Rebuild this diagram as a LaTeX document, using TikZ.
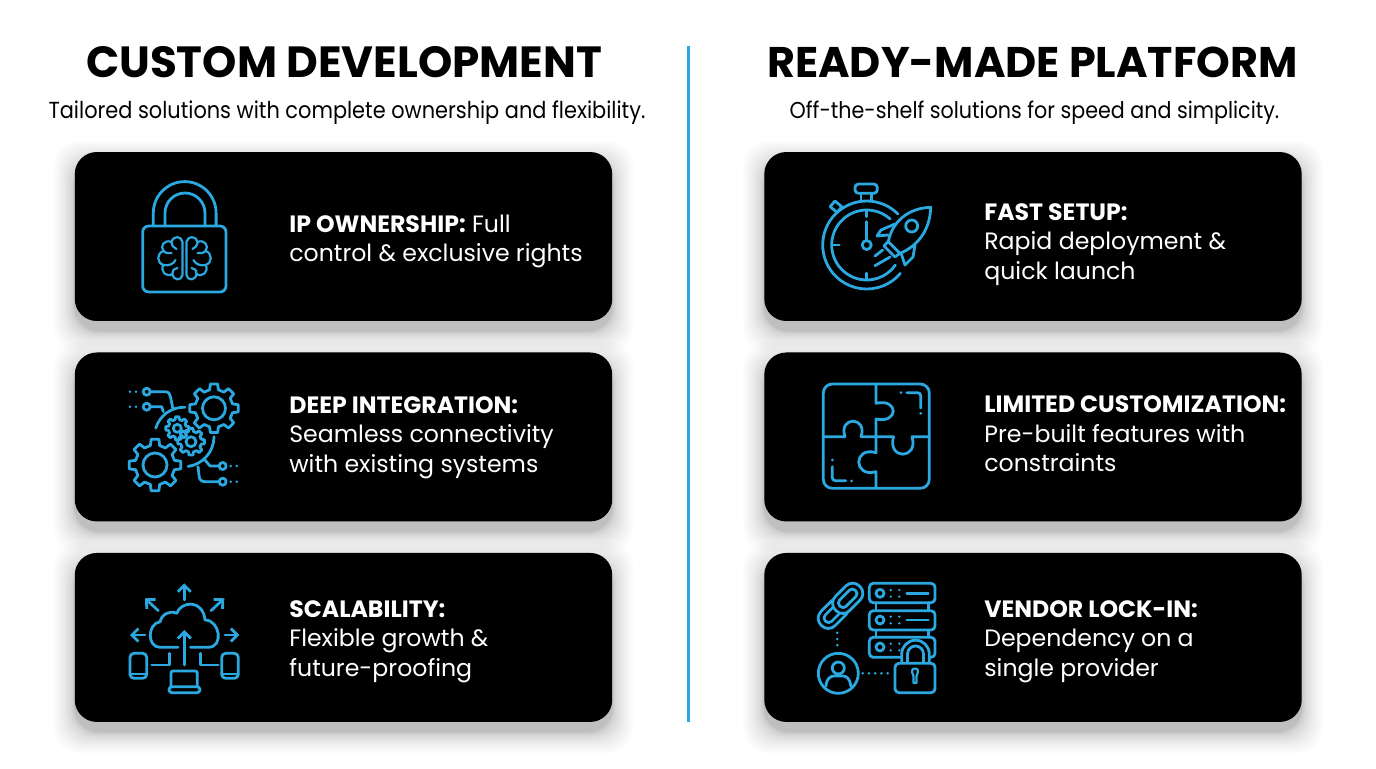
\documentclass[tikz,border=0pt]{standalone}
\usepackage{fontspec}
\setmainfont{Poppins}
\newfontfamily\subfont[FakeStretch=0.9]{Poppins}
\usepackage{tikz}
\usetikzlibrary{arrows.meta}
\definecolor{iconblue}{HTML}{2AA8DF}
\tikzstyle{Title} = [text=black, font=\fontsize{24.5pt}{28pt}\selectfont\bfseries, inner sep=0pt]
\tikzstyle{SubTitle} = [text=black, font=\subfont\fontsize{13.2pt}{16pt}\selectfont, inner sep=0pt]
\tikzstyle{Card} = [rectangle, rounded corners=0.44cm, minimum width=10.75cm, minimum height=3.38cm, fill=black, inner sep=0pt]
\tikzstyle{CardText} = [text=white, anchor=west, font=\fontsize{13.45pt}{16.8pt}\selectfont, inner sep=0pt]
\tikzstyle{Divider} = [draw=iconblue, line width=0.06cm]
\tikzstyle{IconLine} = [draw=iconblue, line width=0.056cm, line cap=round, line join=round]
\tikzstyle{IconThin} = [draw=iconblue, line width=0.044cm, line cap=round, line join=round]
\tikzstyle{IconArrow} = [IconLine, -{Straight Barb[length=0.13cm, width=0.26cm]}]
\tikzstyle{IconDots} = [draw=iconblue, line width=0.056cm, line cap=round, dash pattern=on 0pt off 0.125cm]

% soft shadow under a card
\newcommand{\cardshadow}[1]{
  \foreach \s in {1,...,16}
    \fill[black, opacity=0.014, rounded corners=0.5cm]
      ([xshift=-\s*\s*0.0016cm, yshift=-0.2cm-\s*\s*0.0016cm]#1.south west) rectangle
      ([xshift=\s*\s*0.0016cm, yshift=-0.2cm+\s*\s*0.0016cm]#1.north east);
}
% gear: centre x, centre y, tip radius, root radius, hole radius, teeth
\newcommand{\gearicon}[6]{
  \begin{scope}[shift={(#1,#2)}]
    \pgfmathsetmacro{\gearstep}{360/#6}
    \draw[IconLine] (-0.3*\gearstep:#4) \foreach \t in {1,...,#6} {
      -- ({(\t-1.3)*\gearstep}:#4) -- ({(\t-1.19)*\gearstep}:#3) -- ({(\t-0.81)*\gearstep}:#3) -- ({(\t-0.7)*\gearstep}:#4)
    } -- cycle;
    \draw[IconLine] (0,0) circle (#5);
  \end{scope}
}
% one half of the brain, drawn to the left of its centre
\newcommand{\brainhalf}{
  \draw[IconThin] (-2,-16) .. controls (-3,-22) and (-11,-23) .. (-13,-16)
    .. controls (-20,-19) and (-25,-12) .. (-21,-7)
    .. controls (-28,-5) and (-28,5) .. (-21,7)
    .. controls (-25,13) and (-18,20) .. (-12,16)
    .. controls (-11,23) and (-3,23) .. (-2,17) -- cycle;
  \draw[IconThin] (-13,-16) .. controls (-13,-12) and (-10,-10) .. (-8,-9);
  \draw[IconThin] (-21,-7) .. controls (-18,-4) and (-15,-5) .. (-13,-5);
  \draw[IconThin] (-21,7) .. controls (-15,8) and (-11,6) .. (-9,2);
  \draw[IconThin] (-12,16) .. controls (-12,12) and (-10,10) .. (-7,10);
}
% chain link, long side running up to the right
\newcommand{\chainlink}[2]{
  \begin{scope}[shift={(#1,#2)}, rotate=45]
    \fill[black, rounded corners=0.19cm] (-17,-10) rectangle (17,10);
    \draw[IconLine, rounded corners=0.19cm] (-17,-10) rectangle (17,10);
    \draw[IconLine, rounded corners=0.08cm] (-11,-4.5) rectangle (11,4.5);
  \end{scope}
}

\begin{document}
\begin{tikzpicture}[x=0.02cm, y=-0.02cm, node distance=4.01cm]
    \useasboundingbox (0,0) rectangle (1376,768);
    \fill[white] (0,0) rectangle (1376,768);

    \node(TitleLeft)[Title, font=\fontsize{24.85pt}{28pt}\selectfont\bfseries] at (344,62) {CUSTOM DEVELOPMENT};
    \node(TitleRight)[Title, font=\fontsize{24.4pt}{28pt}\selectfont\bfseries] at (1032.5,62) {READY-MADE PLATFORM};
    \node(SubLeft)[SubTitle] at (347,112.5) {Tailored solutions with complete ownership and flexibility.};
    \node(SubRight)[SubTitle, font=\subfont\fontsize{13.05pt}{16pt}\selectfont] at (1034.5,112.5) {Off-the-shelf solutions for speed and simplicity.};

    \coordinate (DivTop) at (688,46);
    \coordinate (DivBottom) at (688,722);
    \draw[Divider] (DivTop) -- (DivBottom);

    \node(CardIP)[Card] at (343.5,236.5) {};
    \node(CardDeep)[Card, below of=CardIP] {};
    \node(CardScale)[Card, below of=CardDeep] {};
    \node(CardFast)[Card] at (1033,236.5) {};
    \node(CardLimit)[Card, below of=CardFast] {};
    \node(CardVendor)[Card, below of=CardLimit] {};

    \foreach \c in {CardIP,CardDeep,CardScale,CardFast,CardLimit,CardVendor}
      \cardshadow{\c};

    \node(TextIP)[CardText] at (289,241.5) {\parbox{7cm}{\textbf{IP OWNERSHIP:} Full\\ control \& exclusive rights}};
    \node(TextDeep)[CardText] at (289,437.5) {\parbox{7cm}{\textbf{DEEP INTEGRATION:}\\ Seamless connectivity\\ with existing systems}};
    \node(TextScale)[CardText] at (289,641.5) {\parbox{7cm}{\textbf{SCALABILITY:}\\ Flexible growth \&\\ future-proofing}};
    \node(TextFast)[CardText] at (984,244.5) {\parbox{7cm}{\textbf{FAST SETUP:}\\ Rapid deployment \&\\ quick launch}};
    \node(TextLimit)[CardText] at (984,434) {\parbox{7cm}{\textbf{LIMITED CUSTOMIZATION:}\\ Pre-built features with\\ constraints}};
    \node(TextVendor)[CardText] at (984,641.5) {\parbox{7cm}{\textbf{VENDOR LOCK-IN:}\\ Dependency on a\\ single provider}};

    % padlock with brain
    \draw[IconLine, rounded corners=0.12cm] (142.7,226) rectangle (226,292);
    \draw[IconLine] (153.3,226) -- (153.3,213) arc (180:360:31.4) -- (216.1,226);
    \draw[IconLine] (165,226) -- (165,213) arc (180:360:20) -- (205,226);
    \begin{scope}[shift={(184.5,258)}]
      \brainhalf
      \begin{scope}[xscale=-1]
        \brainhalf
      \end{scope}
    \end{scope}

    % gears and traces
    \gearicon{214}{408.3}{24.5}{19}{11.5}{8}
    \gearicon{155}{465}{26}{20}{12}{8}
    \gearicon{177.3}{428.3}{11.7}{9}{4}{8}
    \gearicon{191}{441.7}{13.5}{10.5}{5}{8}
    \draw[IconLine] (184,436.7) ++(197:29.5) arc (197:272:29.5);
    \draw[IconLine] (184,436.7) ++(0:30) arc (0:82:30);
    \draw[IconLine] (150.2,391.7) -- (165,391.7) .. controls (169,391.7) and (170,394) .. (170.5,397) -- (172.7,407.7);
    \draw[IconLine] (150.2,406.7) -- (161.7,406.7) -- (163.3,411.7);
    \draw[IconLine] (219.2,466) -- (210,466) -- (205,460);
    \draw[IconLine] (219.2,481.7) -- (205,481.7) .. controls (201,481.7) and (199,479) .. (199,475) -- (198,466.7);
    \foreach \y in {391.7,406.7} {
      \draw[IconLine] (146.7,\y) circle (3.5);
      \fill[iconblue] (130,\y) circle (1.4);
      \fill[iconblue] (136,\y) circle (1.4);
    }
    \foreach \y in {466,481.7} {
      \draw[IconLine] (222.7,\y) circle (3.5);
      \fill[iconblue] (230.7,\y) circle (1.4);
      \fill[iconblue] (236.7,\y) circle (1.4);
    }

    % cloud with devices
    \draw[IconLine] (178,647.3) -- (160,647.3) .. controls (147,647.3) and (147,624) .. (160,621.7)
      .. controls (162,614) and (170,610) .. (176.7,613.3) .. controls (181,601) and (203,599) .. (205,620)
      .. controls (220,620) and (224,647.3) .. (208.3,647.3) -- (190.5,647.3);
    \draw[IconArrow] (184.3,665) -- (184.3,630);
    \draw[IconArrow] (184.3,600) -- (184.3,583.3);
    \draw[IconArrow] (158.3,610.7) -- (145,598.3);
    \draw[IconArrow] (211,610.7) -- (224.3,598.3);
    \draw[IconArrow] (145,635) -- (130,635);
    \draw[IconArrow] (225,635) -- (239.3,635);
    \draw[IconLine, rounded corners=0.08cm] (130,653.3) rectangle (146.7,678.3);
    \draw[IconLine] (130,674) -- (146.7,674);
    \draw[IconLine, rounded corners=0.08cm] (221.7,653.3) rectangle (238.3,678.3);
    \draw[IconLine] (221.7,674) -- (238.3,674);
    \draw[IconLine, rounded corners=0.04cm] (171,686.7) -- (171,671) -- (197.3,671) -- (197.3,686.7);
    \draw[IconLine, rounded corners=0.06cm] (169,686.7) rectangle (200,692.7);
    \draw[IconLine] (169.3,653.3) -- (169.3,665) -- (151.7,665);
    \draw[IconLine] (200.7,653.3) -- (200.7,665) -- (218.3,665);

    % stopwatch with rocket
    \draw[IconLine] (866.7,245) ++(315:44) arc (315:40:44);
    \draw[IconLine] (866.7,245) ++(312:35) arc (312:35:35);
    \draw[IconLine, rounded corners=0.07cm] (855,184) rectangle (877.3,193.3);
    \draw[IconLine] (861,193.3) -- (861,200.7);
    \draw[IconLine] (871.7,193.3) -- (871.7,200.7);
    \draw[IconLine, rotate around={-40:(836,206.7)}] (831.5,203) rectangle (840.5,210.4);
    \draw[IconLine] (866.7,221.7) -- (866.7,240.5);
    \draw[IconLine] (866.7,245) circle (4.5);
    \draw[IconLine] (866.7,210) -- (866.7,216.7);
    \draw[IconLine] (833,245) -- (839.3,245);
    \draw[IconLine] (866.7,273) -- (866.7,280);
    \draw[IconLine] (888.3,241.7) .. controls (892,222) and (908,208) .. (930.7,207.3)
      .. controls (930,230) and (918,246) .. (900,253.3) -- cycle;
    \draw[IconLine] (911.7,226) circle (6);
    \draw[IconLine] (895,224) -- (881,230) -- (877,236) -- (888,235);
    \draw[IconLine] (915,245) -- (913,257) -- (905,265) -- (901,253);
    \draw[IconLine] (887.5,242) -- (884,246) -- (895,257) -- (900,253.3);
    \draw[IconLine] (875,256) -- (882.7,250);
    \draw[IconLine] (875,265.7) -- (890,257);

    % puzzle
    \draw[IconLine, rounded corners=0.18cm] (823.3,384) rectangle (929.3,488.3);
    \draw[IconLine] (876,384) -- (876,403.3) .. controls (899,398) and (899,424) .. (876,419) -- (876,436.7);
    \draw[IconLine] (823.3,436.7) -- (845,436.7) .. controls (838,416) and (868,416) .. (861,436.7) -- (876,436.7);
    \draw[IconLine] (876,436.7) -- (893.5,436.7) .. controls (887,460) and (919,460) .. (912,436.7) -- (929.3,436.7);
    \draw[IconLine] (876,436.7) -- (876,452.7) .. controls (853,446) and (853,478) .. (876,471.7) -- (876,488.3);
    \fill[iconblue] (901,392.7) circle (1.5);
    \draw[IconLine, rounded corners=0.06cm] (906.7,392.7) -- (920.7,392.7) -- (920.7,408);
    \fill[iconblue] (920.7,413.3) circle (1.5);
    \fill[iconblue] (832.3,460) circle (1.5);
    \draw[IconLine, rounded corners=0.06cm] (832.3,466.7) -- (832.3,480.7) -- (845.7,480.7);
    \fill[iconblue] (851.7,481) circle (1.5);

    % chain, servers, user and padlock
    \chainlink{833.3}{613.3}
    \chainlink{847.7}{598.3}
    \foreach \y/\h in {583.3/602.7,610.7/630,637.3/657.3}
      \draw[IconLine, rounded corners=0.08cm] (869.3,\y) rectangle (935,\h);
    \foreach \y/\h in {602.7/610.7,630/637.3} {
      \draw[IconLine] (876,\y) -- (876,\h);
      \draw[IconLine] (928.3,\y) -- (928.3,\h);
    }
    \foreach \y in {593.3,620,647} {
      \draw[IconLine] (880,\y) circle (4);
      \foreach \dx in {890.7,899.3} {
        \fill[iconblue] (\dx,\y-3.3) circle (1.3);
        \fill[iconblue] (\dx,\y+3.3) circle (1.3);
      }
    }
    \draw[IconLine] (906.7,593.3) -- (928.3,593.3);
    \draw[IconLine] (906.7,620) -- (928.3,620);
    \fill[black] (901.7,663.3) -- (901.7,654) arc (180:360:13.8) -- (929.3,663.3) -- cycle;
    \draw[IconLine] (901.7,663.3) -- (901.7,654) arc (180:360:13.8) -- (929.3,663.3);
    \draw[IconLine] (907.5,663.3) -- (907.5,654) arc (180:360:8) -- (923.5,663.3);
    \draw[IconLine, fill=black, rounded corners=0.08cm] (895,663.3) rectangle (935,692.7);
    \draw[IconThin] (913.5,676) .. controls (911,671) and (912,668.5) .. (915,668.5)
      .. controls (918,668.5) and (919,671) .. (916.5,676) -- (916.5,683) -- (913.5,683) -- cycle;
    \draw[IconLine] (838.3,673.3) circle (20);
    \draw[IconLine] (838.3,668) circle (6);
    \draw[IconLine] (826,686) .. controls (826.5,678) and (831,676) .. (834,676) -- (843,676)
      .. controls (846,676) and (850,678) .. (850.7,686);
    \draw[IconDots] (837.3,632.7) -- (837.3,648);
    \draw[IconDots] (862.7,673.3) -- (892,673.3);
\end{tikzpicture}
\end{document}
